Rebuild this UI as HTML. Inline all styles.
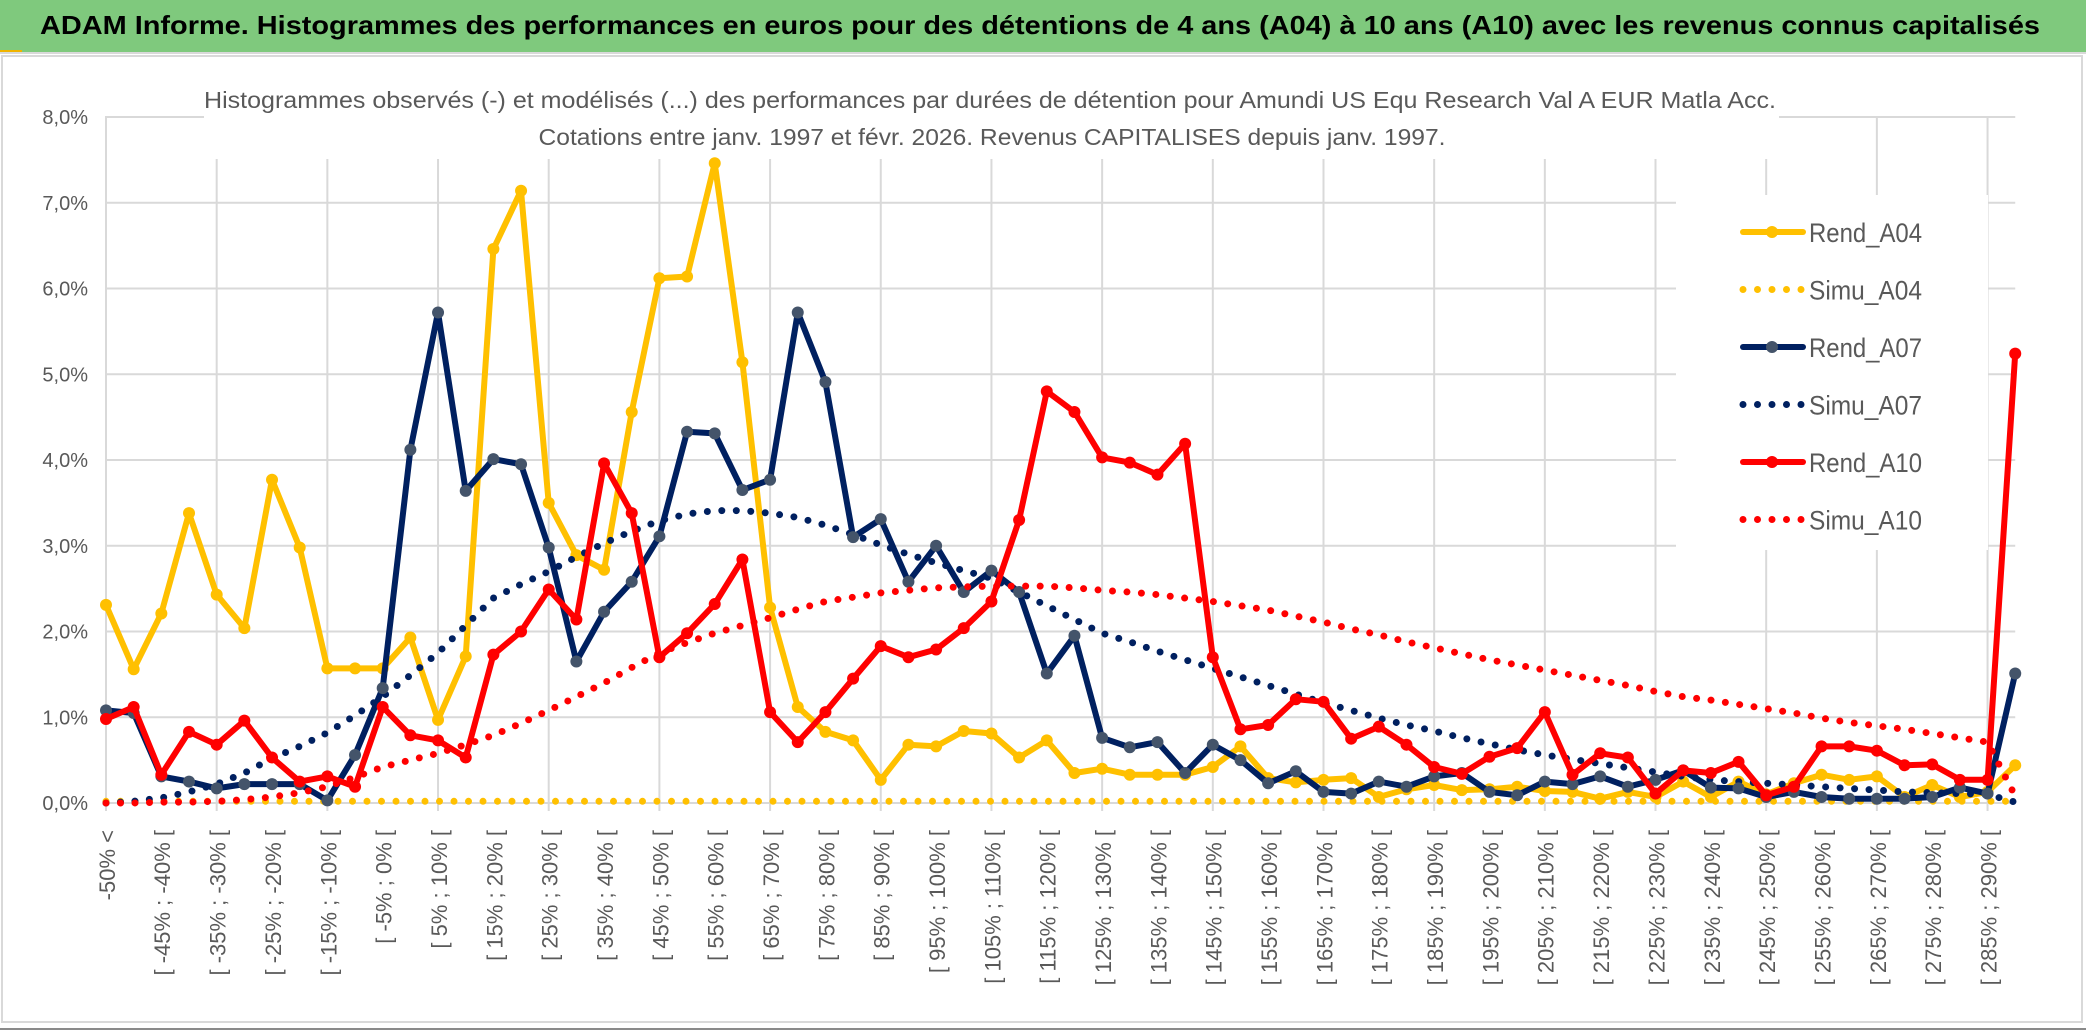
<!DOCTYPE html>
<html><head><meta charset="utf-8">
<style>
html,body{margin:0;padding:0;background:#fff;}
svg{display:block;font-family:"Liberation Sans",Arial,sans-serif;}
</style></head>
<body>
<svg id="chart" width="2086" height="1031" viewBox="0 0 2086 1031" xmlns="http://www.w3.org/2000/svg">
  <rect x="0" y="0" width="2086" height="1031" fill="#ffffff"/>
  <rect x="0" y="0" width="2086" height="52" fill="#7fc97d"/>
  <rect x="0" y="50" width="22" height="3" fill="#f0b400"/>
  <line x1="0" y1="53" x2="2086" y2="53" stroke="#d9d9d9" stroke-width="2"/>
  <text x="40" y="34" font-size="26" font-weight="bold" fill="#000" textLength="2000" lengthAdjust="spacingAndGlyphs">ADAM Informe. Histogrammes des performances en euros pour des détentions de 4 ans (A04) à 10 ans (A10) avec les revenus connus capitalisés</text>
  <rect x="2" y="56" width="2080" height="966" fill="none" stroke="#d9d9d9" stroke-width="2"/>
  <line x1="0" y1="1029" x2="2086" y2="1029" stroke="#8a8a8a" stroke-width="2"/>
  <g id="grid"></g>
  <rect x="204" y="60" width="1575" height="99" fill="#fff"/>
  <text x="990" y="108" font-size="23" fill="#595959" text-anchor="middle" textLength="1572" lengthAdjust="spacingAndGlyphs">Histogrammes observés (-) et modélisés (...) des performances par durées de détention pour Amundi US Equ Research Val A EUR Matla Acc.</text>
  <text x="992" y="145" font-size="23" fill="#595959" text-anchor="middle" textLength="907" lengthAdjust="spacingAndGlyphs">Cotations entre janv. 1997 et févr. 2026. Revenus CAPITALISES depuis janv. 1997.</text>
  <rect x="1676" y="195" width="312" height="355" fill="#fff"/>
  <g id="yaxis"></g>
  <g id="xaxis"></g>
  <g id="series"></g>
  <g id="legend"></g>
</svg>
<script>
const categories = ["-50% <"];
for (let k = 0; k < 69; k++) { const lo = -50 + 5 * k; categories.push("[ " + lo + "% ; " + (lo + 5) + "% ["); }
const yTicks = [0,1,2,3,4,5,6,7,8];
const yTickLabels = ["0,0%","1,0%","2,0%","3,0%","4,0%","5,0%","6,0%","7,0%","8,0%"];
const rendA04 = [2.31,1.56,2.21,3.38,2.43,2.04,3.77,2.98,1.57,1.57,1.57,1.93,0.97,1.71,6.46,7.14,3.50,2.89,2.72,4.56,6.12,6.14,7.46,5.14,2.28,1.12,0.83,0.73,0.27,0.68,0.66,0.84,0.81,0.53,0.73,0.35,0.40,0.33,0.33,0.33,0.42,0.66,0.29,0.24,0.27,0.29,0.07,0.16,0.21,0.15,0.16,0.19,0.14,0.13,0.05,0.13,0.07,0.25,0.07,0.25,0.10,0.23,0.33,0.27,0.31,0.07,0.21,0.07,0.13,0.44];
const simuA04 = [0.02,0.02,0.02,0.02,0.02,0.02,0.02,0.02,0.02,0.02,0.02,0.02,0.02,0.02,0.02,0.02,0.02,0.02,0.02,0.02,0.02,0.02,0.02,0.02,0.02,0.02,0.02,0.02,0.02,0.02,0.02,0.02,0.02,0.02,0.02,0.02,0.02,0.02,0.02,0.02,0.02,0.02,0.02,0.02,0.02,0.02,0.02,0.02,0.02,0.02,0.02,0.02,0.02,0.02,0.02,0.02,0.02,0.02,0.02,0.02,0.02,0.02,0.02,0.02,0.02,0.02,0.02,0.02,0.02,0.02];
const rendA07 = [1.08,1.05,0.31,0.25,0.17,0.22,0.22,0.22,0.03,0.56,1.34,4.12,5.72,3.64,4.01,3.95,2.98,1.65,2.23,2.58,3.11,4.33,4.31,3.65,3.77,5.72,4.91,3.10,3.31,2.58,3.00,2.46,2.71,2.46,1.51,1.95,0.76,0.65,0.71,0.35,0.68,0.50,0.23,0.37,0.13,0.11,0.25,0.19,0.31,0.35,0.13,0.09,0.25,0.22,0.31,0.19,0.27,0.38,0.18,0.17,0.07,0.13,0.07,0.05,0.05,0.05,0.07,0.18,0.11,1.51];
const simuA07 = [0.0,0.02,0.06,0.13,0.22,0.35,0.52,0.66,0.82,1.02,1.24,1.49,1.75,2.07,2.39,2.55,2.70,2.87,3.03,3.17,3.29,3.37,3.41,3.41,3.38,3.33,3.24,3.13,3.01,2.90,2.80,2.71,2.62,2.46,2.30,2.14,1.98,1.88,1.77,1.67,1.57,1.47,1.37,1.27,1.17,1.08,0.99,0.91,0.84,0.76,0.69,0.62,0.56,0.51,0.46,0.41,0.36,0.31,0.27,0.25,0.23,0.21,0.19,0.17,0.15,0.13,0.12,0.11,0.10,0.01];
const rendA10 = [0.98,1.12,0.33,0.83,0.68,0.96,0.53,0.25,0.31,0.19,1.12,0.79,0.73,0.53,1.73,2.00,2.49,2.14,3.96,3.38,1.70,1.98,2.32,2.84,1.06,0.71,1.06,1.45,1.83,1.70,1.79,2.04,2.35,3.30,4.80,4.56,4.03,3.97,3.83,4.19,1.70,0.86,0.91,1.21,1.18,0.75,0.89,0.68,0.42,0.34,0.54,0.64,1.06,0.33,0.58,0.53,0.11,0.38,0.35,0.48,0.09,0.19,0.66,0.66,0.61,0.44,0.45,0.27,0.27,5.24];
const simuA10 = [0.0,0.0,0.01,0.01,0.02,0.04,0.07,0.12,0.19,0.30,0.42,0.50,0.58,0.68,0.79,0.93,1.08,1.24,1.40,1.58,1.75,1.87,1.98,2.07,2.16,2.26,2.35,2.40,2.45,2.48,2.51,2.52,2.53,2.53,2.53,2.51,2.48,2.46,2.43,2.39,2.35,2.30,2.25,2.18,2.11,2.03,1.96,1.88,1.81,1.74,1.67,1.61,1.55,1.49,1.43,1.37,1.30,1.24,1.20,1.15,1.10,1.05,0.99,0.94,0.90,0.86,0.81,0.76,0.71,0.08];
const seriesNames = ["Rend_A04","Simu_A04","Rend_A07","Simu_A07","Rend_A10","Simu_A10"];

const NS = "http://www.w3.org/2000/svg";
const X0 = 106, DX = 27.67, Y0 = 803, DY = 85.75;
function xPos(i){ return X0 + DX * i; }
function yPos(v){ return Y0 - DY * v; }
function mk(tag, attrs, parent){ const e = document.createElementNS(NS, tag); for (const k in attrs) e.setAttribute(k, attrs[k]); parent.appendChild(e); return e; }

const grid = document.getElementById('grid');
const xEnd = xPos(categories.length - 1);
yTicks.forEach(function(t){
  const l = mk('line', {x1: X0 - 1, x2: xEnd, y1: yPos(t), y2: yPos(t), stroke: '#d9d9d9', 'stroke-width': 2}, grid);
  
  
});
for (let i = 0; i < categories.length; i += 4) {
  const l = mk('line', {x1: xPos(i), x2: xPos(i), y1: yPos(8), y2: yPos(0) + 8, stroke: '#d9d9d9', 'stroke-width': 2}, grid);
  
  
}

const yaxis = document.getElementById('yaxis');
yTicks.forEach(function(t, k){
  const tx = mk('text', {x: 88, y: yPos(t) + 7, 'text-anchor': 'end', 'font-size': 20, fill: '#595959'}, yaxis);
  tx.textContent = yTickLabels[k];
  
  
});

const xaxis = document.getElementById('xaxis');
for (let i = 0; i < categories.length; i += 2) {
  const x = xPos(i) + 1, y = 830;
  const tx = mk('text', {x: x, y: y, transform: 'rotate(-90 ' + x + ' ' + y + ')', 'text-anchor': 'end', dy: '0.36em', 'font-size': 22, fill: '#595959'}, xaxis);
  tx.textContent = categories[i];
  
  
}

const seriesG = document.getElementById('series');
function drawSeries(vals, name, color, dotted, markerColor){
  const d = vals.map(function(v, i){ return (i ? 'L' : 'M') + xPos(i).toFixed(1) + ' ' + yPos(v).toFixed(1); }).join(' ');
  const g = mk('g', {}, seriesG);
  
  
  const p = mk('path', {d: d, fill: 'none', stroke: color, 'stroke-width': dotted ? 7 : 6, 'stroke-linejoin': 'round', 'stroke-linecap': 'round'}, g);
  if (dotted) p.setAttribute('stroke-dasharray', '0 14.5');
  
  
  if (!dotted) {
    vals.forEach(function(v, i){
      const c = mk('circle', {cx: xPos(i), cy: yPos(v), r: 6, fill: markerColor}, g);
      
      
    });
  }
}
drawSeries(simuA04, seriesNames[1], '#ffc000', true);
drawSeries(rendA04, seriesNames[0], '#ffc000', false, '#ffc000');
drawSeries(simuA07, seriesNames[3], '#002060', true);
drawSeries(rendA07, seriesNames[2], '#002060', false, '#44546a');
drawSeries(simuA10, seriesNames[5], '#ff0000', true);
drawSeries(rendA10, seriesNames[4], '#ff0000', false, '#ff0000');

const legend = document.getElementById('legend');
const legColors = ['#ffc000','#ffc000','#002060','#002060','#ff0000','#ff0000'];
const legMarkers = ['#ffc000',null,'#44546a',null,'#ff0000',null];
seriesNames.forEach(function(n, k){
  const y = 232 + 57.5 * k;
  const g = mk('g', {}, legend);
  
  
  const dotted = k % 2 === 1;
  const l = mk('line', {x1: 1743, x2: 1803, y1: y, y2: y, stroke: legColors[k], 'stroke-width': dotted ? 7 : 6, 'stroke-linecap': 'round'}, g);
  if (dotted) l.setAttribute('stroke-dasharray', '0 14.5');
  if (legMarkers[k]) mk('circle', {cx: 1772, cy: y, r: 6, fill: legMarkers[k]}, g);
  const t = mk('text', {x: 1809, y: y + 10, 'font-size': 27, fill: '#595959', textLength: 113, lengthAdjust: 'spacingAndGlyphs'}, g);
  t.textContent = n;
});
</script>
</body></html>
